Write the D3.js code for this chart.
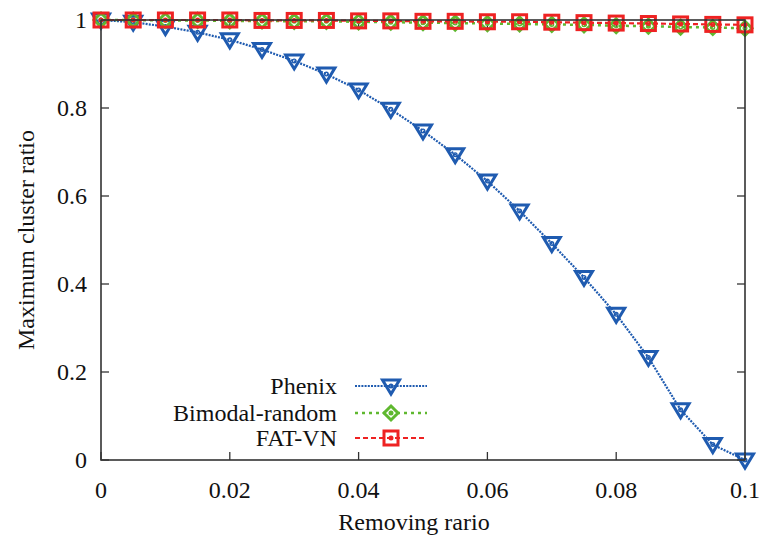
<!DOCTYPE html>
<html><head><meta charset="utf-8">
<script src="https://cdn.jsdelivr.net/npm/d3@7"></script>
<style>body{margin:0;background:#fff}svg{display:block}
svg text{font-family:"Liberation Serif","Tinos","Times New Roman","Nimbus Roman",serif !important;}</style>
</head><body>
<svg id="c" width="765" height="542"></svg>
<script>
const xValues = [0,0.005,0.01,0.015,0.02,0.025,0.03,0.035,0.04,0.045,0.05,0.055,0.06,0.065,0.07,0.075,0.08,0.085,0.09,0.095,0.1];
const phenix = [1.0,0.995,0.985,0.972,0.955,0.933,0.907,0.877,0.841,0.797,0.748,0.694,0.634,0.566,0.492,0.415,0.331,0.233,0.114,0.035,0.0];
const bimodal = [1,1,0.999,0.999,0.998,0.998,0.997,0.997,0.996,0.995,0.994,0.993,0.992,0.991,0.99,0.989,0.987,0.986,0.984,0.983,0.981];
const fatvn = [1,1,1,1,1,0.999,0.999,0.999,0.998,0.998,0.997,0.997,0.996,0.996,0.995,0.994,0.993,0.992,0.991,0.99,0.989];
const xTicks = [0,0.02,0.04,0.06,0.08,0.1];
const yTicks = [0,0.2,0.4,0.6,0.8,1];
const seriesNames = ["Phenix","Bimodal-random","FAT-VN"];

const svg = d3.select("#c");
const L=101,R=745,T=20,B=460;
const x = d3.scaleLinear().domain([0,0.1]).range([L,R]);
const y = d3.scaleLinear().domain([0,1]).range([B,T]);

const series = [
  {name:seriesNames[0], vals:phenix, color:"#1f5bb0", dash:"2,1.2", lw:2.2, shape:"tri"},
  {name:seriesNames[1], vals:bimodal, color:"#5fb82f", dash:"3,4", lw:2.5, shape:"dia"},
  {name:seriesNames[2], vals:fatvn, color:"#ee2222", dash:"5,3", lw:2.2, shape:"sq"}
];

function marker(g, shape, color, cx, cy){
  if(shape==="tri"){
    g.append("path").attr("d",`M${cx-8.5},${cy-6} L${cx+8.5},${cy-6} L${cx},${cy+8} Z`)
     .attr("fill","none").attr("stroke",color).attr("stroke-width",3).attr("stroke-linejoin","miter");
  } else if(shape==="dia"){
    g.append("path").attr("d",`M${cx},${cy-7} L${cx+7},${cy} L${cx},${cy+7} L${cx-7},${cy} Z`)
     .attr("fill","none").attr("stroke",color).attr("stroke-width",3);
  } else {
    g.append("rect").attr("x",cx-7).attr("y",cy-7).attr("width",14).attr("height",14)
     .attr("fill","none").attr("stroke",color).attr("stroke-width",3);
  }
  g.append("circle").attr("cx",cx).attr("cy",cy).attr("r",1.8).attr("fill","none").attr("stroke",color).attr("stroke-width",1.4);
}

// ticks (inward, mirrored)
const tk = svg.append("g").attr("stroke","#333").attr("stroke-width",1.3);
xTicks.forEach(t=>{
  tk.append("line").attr("x1",x(t)).attr("x2",x(t)).attr("y1",B).attr("y2",B-8);
  tk.append("line").attr("x1",x(t)).attr("x2",x(t)).attr("y1",T).attr("y2",T+8);
});
yTicks.forEach(t=>{
  tk.append("line").attr("x1",L).attr("x2",L+8).attr("y1",y(t)).attr("y2",y(t));
  tk.append("line").attr("x1",R).attr("x2",R-8).attr("y1",y(t)).attr("y2",y(t));
});

function txt(sel){ return sel.style("font-family",'"Liberation Serif"').attr("font-size",24).attr("fill","#111"); }

// tick labels
const fmt = d=> d===0?"0":(d===1?"1":String(d));
txt(svg.append("g").selectAll("text").data(xTicks).join("text"))
  .attr("x",d=>x(d)).attr("y",B+38).attr("text-anchor","middle").text(fmt);
txt(svg.append("g").selectAll("text").data(yTicks).join("text"))
  .attr("x",L-14).attr("y",d=>y(d)+8).attr("text-anchor","end").text(fmt);

// axis titles
txt(svg.append("text")).attr("x",414).attr("y",530).attr("text-anchor","middle").text("Removing rario");
txt(svg.append("text")).attr("transform",`translate(34,${(T+B)/2}) rotate(-90)`).attr("text-anchor","middle").text("Maximum cluster ratio");

// series
series.forEach(s=>{
  const g = svg.append("g");
  const line = d3.line().x((d,i)=>x(xValues[i])).y(d=>y(d));
  g.append("path").datum(s.vals).attr("d",line).attr("fill","none")
    .attr("stroke",s.color).attr("stroke-width",s.lw).attr("stroke-dasharray",s.dash);
  s.vals.forEach((v,i)=>marker(g,s.shape,s.color,x(xValues[i]),y(v)));
});

// legend
const legY=[386,413,438];
series.forEach((s,i)=>{
  txt(svg.append("text")).attr("x",337).attr("y",legY[i]+8).attr("text-anchor","end").text(s.name);
  svg.append("line").attr("x1",355).attr("x2",427).attr("y1",legY[i]).attr("y2",legY[i])
    .attr("stroke",s.color).attr("stroke-width",s.lw).attr("stroke-dasharray",s.dash);
  marker(svg.append("g"),s.shape,s.color,391,legY[i]);
});

// border on top
svg.append("rect").attr("x",L).attr("y",T).attr("width",R-L).attr("height",B-T)
  .attr("fill","none").attr("stroke","#333").attr("stroke-width",1.6);
</script>
</body></html>
